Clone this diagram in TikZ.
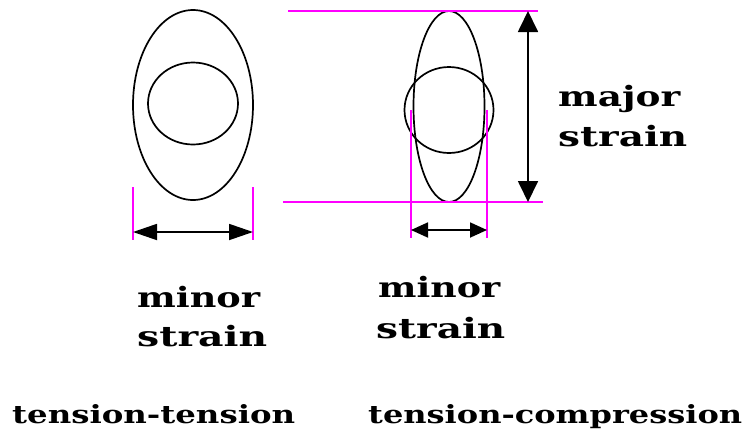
\documentclass[tikz,border=0pt]{standalone}
\usepackage{fontspec}
\usepackage{graphicx}
\usetikzlibrary{arrows.meta}
\newfontfamily\lblfont{DejaVu Serif}
\definecolor{mag}{RGB}{255,0,255}
\newcommand\fitw[3]{\resizebox{#1}{\height}{\fontsize{#2}{#2}\lblfont\bfseries #3}}
\begin{document}
\begin{tikzpicture}[x=1pt,y=-1pt,
  outline/.style={line width=1.7pt},
  guide/.style={draw=mag, line width=1.8pt},
  dimbig/.style={line width=1.8pt, {Triangle[length=24pt,width=16pt]}-{Triangle[length=24pt,width=16pt]}},
  dimsmall/.style={line width=1.8pt, {Triangle[length=17pt,width=15pt]}-{Triangle[length=17pt,width=15pt]}},
  dimmajor/.style={line width=1.8pt, {Triangle[length=21pt,width=20pt]}-{Triangle[length=21pt,width=20pt]}},
  lbl/.style={anchor=base west, inner sep=0pt}
]
\useasboundingbox (0,0) rectangle (746,429);
% ---- left: tension-tension
\draw[outline] (193,105) ellipse [x radius=60, y radius=95];
\draw[outline] (193,103.5) ellipse [x radius=45, y radius=41];
\coordinate (la1) at (133,187); \coordinate (la2) at (133,240);
\coordinate (lb1) at (253,187); \coordinate (lb2) at (253,240);
\draw[guide] (la1) -- (la2);
\draw[guide] (lb1) -- (lb2);
\coordinate (lw1) at (133,232); \coordinate (lw2) at (253,232);
\draw[dimbig] (lw1) -- (lw2);
% ---- right: tension-compression
\draw[outline] (449,106.5) ellipse [x radius=35.5, y radius=95.5];
\draw[outline] (449,110) ellipse [x radius=44.5, y radius=43];
\coordinate (t1) at (288,11); \coordinate (t2) at (538,11);
\coordinate (b1) at (283,202); \coordinate (b2) at (543,202);
\draw[guide] (t1) -- (t2);
\draw[guide] (b1) -- (b2);
\coordinate (ra1) at (411,110); \coordinate (ra2) at (411,238);
\coordinate (rb1) at (487,110); \coordinate (rb2) at (487,238);
\draw[guide] (ra1) -- (ra2);
\draw[guide] (rb1) -- (rb2);
\coordinate (rw1) at (411,230); \coordinate (rw2) at (487,230);
\draw[dimsmall] (rw1) -- (rw2);
\coordinate (mj1) at (528,11); \coordinate (mj2) at (528,202);
\draw[dimmajor] (mj1) -- (mj2);
% ---- labels
\node[lbl] (majA) at (558,106) {\fitw{122pt}{28pt}{major}};
\node[lbl] (majB) at (558,146) {\fitw{129pt}{28pt}{strain}};
\node[lbl] (minLA) at (137,307) {\fitw{123pt}{28pt}{minor}};
\node[lbl] (minLB) at (137,346) {\fitw{130pt}{28pt}{strain}};
\node[lbl] (minRA) at (378,297) {\fitw{122pt}{28pt}{minor}};
\node[lbl] (minRB) at (376,338) {\fitw{129pt}{28pt}{strain}};
\node[lbl] (capL) at (12,423) {\fitw{283pt}{25pt}{tension-tension}};
\node[lbl] (capR) at (368,423) {\fitw{374pt}{25pt}{tension-compression}};
\end{tikzpicture}
\end{document}
